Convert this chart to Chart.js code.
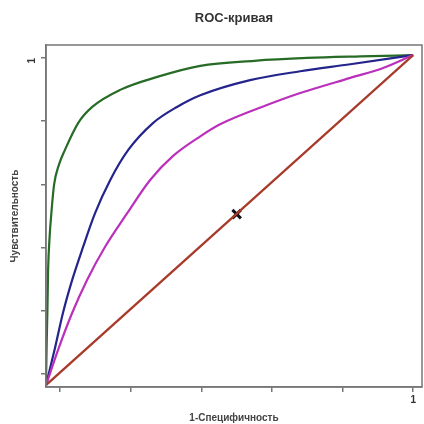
<!DOCTYPE html>
<html>
<head>
<meta charset="utf-8">
<script src="https://cdn.jsdelivr.net/npm/chart.js@4.4.1/dist/chart.umd.min.js"></script>
<style>
  html, body { margin: 0; padding: 0; background: #fff; }
  #wrap { width: 424px; height: 424px; }
</style>
</head>
<body>
<div id="wrap"><canvas id="roc" width="424" height="424"></canvas></div>
<script>
// values (x = 1-specificity, y = sensitivity)
const greenX = [-0.040, -0.038, -0.036, -0.034, -0.030, -0.024, -0.017, -0.004, 0.014, 0.051, 0.091, 0.170, 0.275, 0.397, 0.550, 0.700, 0.850, 1.0];
const greenY = [-0.035, 0.100, 0.200, 0.330, 0.430, 0.520, 0.600, 0.660, 0.710, 0.794, 0.845, 0.899, 0.940, 0.975, 0.991, 1.000, 1.005, 1.009];

const blueX = [-0.040, -0.014, 0.008, 0.034, 0.065, 0.099, 0.142, 0.193, 0.263, 0.331, 0.397, 0.538, 0.680, 0.822, 1.0];
const blueY = [-0.035, 0.085, 0.193, 0.297, 0.402, 0.509, 0.614, 0.709, 0.794, 0.845, 0.882, 0.930, 0.958, 0.980, 1.009];

const pinkX = [-0.040, -0.003, 0.034, 0.076, 0.127, 0.190, 0.255, 0.320, 0.397, 0.453, 0.586, 0.680, 0.822, 0.915, 1.0];
const pinkY = [-0.035, 0.085, 0.193, 0.297, 0.402, 0.509, 0.614, 0.690, 0.752, 0.790, 0.851, 0.889, 0.937, 0.968, 1.009];

const redX = [-0.040, 1.0];
const redY = [-0.035, 1.009];

const markX = [0.5];
const markY = [0.506];

const tickVals = [0, 0.2, 0.4, 0.6, 0.8, 1];

const titleText = "ROC-кривая";
const xTitle = "1-Специфичность";
const yTitle = "Чувствительность";

function pts(xs, ys) {
    return xs.map((x, i) => ({ x: x, y: ys[i] }));
}

function curve(xs, ys, color) {
    return {
        data: pts(xs, ys),
        borderColor: color,
        borderWidth: 2.2,
        showLine: true,
        pointRadius: 0,
        cubicInterpolationMode: 'monotone',
        fill: false
    };
}

const boxAndTitle = {
    id: 'boxAndTitle',
    afterDraw(chart) {
        const a = chart.chartArea;
        const c = chart.ctx;
        c.save();
        c.strokeStyle = '#777';
        c.lineWidth = 1.5;
        c.strokeRect(a.left, a.top, a.right - a.left, a.bottom - a.top);
        c.fillStyle = '#333';
        c.font = 'bold 13px "Liberation Sans", Arial, sans-serif';
        c.textAlign = 'center';
        c.textBaseline = 'middle';
        c.fillText(titleText, (a.left + a.right) / 2, 18);
        c.restore();
    }
};

const ctx = document.getElementById('roc').getContext('2d');
new Chart(ctx, {
    type: 'scatter',
    data: {
        datasets: [
            curve(redX, redY, '#a83a2c'),
            curve(pinkX, pinkY, '#bb30bb'),
            curve(blueX, blueY, '#24248c'),
            curve(greenX, greenY, '#276b27'),
            {
                data: pts(markX, markY),
                pointStyle: 'crossRot',
                pointRadius: 6,
                pointBorderWidth: 3,
                pointBorderColor: '#111',
                showLine: false
            }
        ]
    },
    options: {
        responsive: false,
        animation: false,
        layout: { autoPadding: false, padding: { top: 45, right: 2, left: 0, bottom: 0 } },
        plugins: {
            legend: { display: false },
            tooltip: { enabled: false }
        },
        scales: {
            x: {
                type: 'linear',
                min: -0.04,
                max: 1.025,
                afterBuildTicks: s => { s.ticks = tickVals.map(v => ({ value: v })); },
                afterFit: s => { s.height = 37; s.paddingLeft = 0; s.paddingRight = 0; },
                grid: { drawOnChartArea: false, drawTicks: true, tickLength: 5, color: '#777', lineWidth: 1.5 },
                border: { color: '#777', width: 1.5 },
                ticks: {
                    padding: 2,
                    color: '#333',
                    font: { size: 10, weight: 'bold', family: '"Liberation Sans", Arial, sans-serif' },
                    maxRotation: 0,
                    callback: v => (v === 1 ? '1' : '')
                },
                title: {
                    display: true,
                    text: xTitle,
                    color: '#444',
                    padding: { top: 0, bottom: 0 },
                    font: { size: 10, weight: 'bold', family: '"Liberation Sans", Arial, sans-serif' }
                }
            },
            y: {
                type: 'linear',
                min: -0.041,
                max: 1.041,
                afterBuildTicks: s => { s.ticks = tickVals.map(v => ({ value: v })); },
                afterFit: s => { s.width = 46; s.paddingTop = 0; s.paddingBottom = 0; },
                grid: { drawOnChartArea: false, drawTicks: true, tickLength: 5, color: '#777', lineWidth: 1.5 },
                border: { color: '#777', width: 1.5 },
                ticks: {
                    padding: 9,
                    color: '#333',
                    minRotation: 90,
                    maxRotation: 90,
                    font: { size: 10, weight: 'bold', family: '"Liberation Sans", Arial, sans-serif' },
                    callback: v => (v === 1 ? '1' : '')
                },
                title: {
                    display: true,
                    text: yTitle,
                    color: '#444',
                    padding: { top: 9, bottom: 0 },
                    font: { size: 10, weight: 'bold', family: '"Liberation Sans", Arial, sans-serif' }
                }
            }
        }
    },
    plugins: [boxAndTitle]
});
</script>
</body>
</html>
